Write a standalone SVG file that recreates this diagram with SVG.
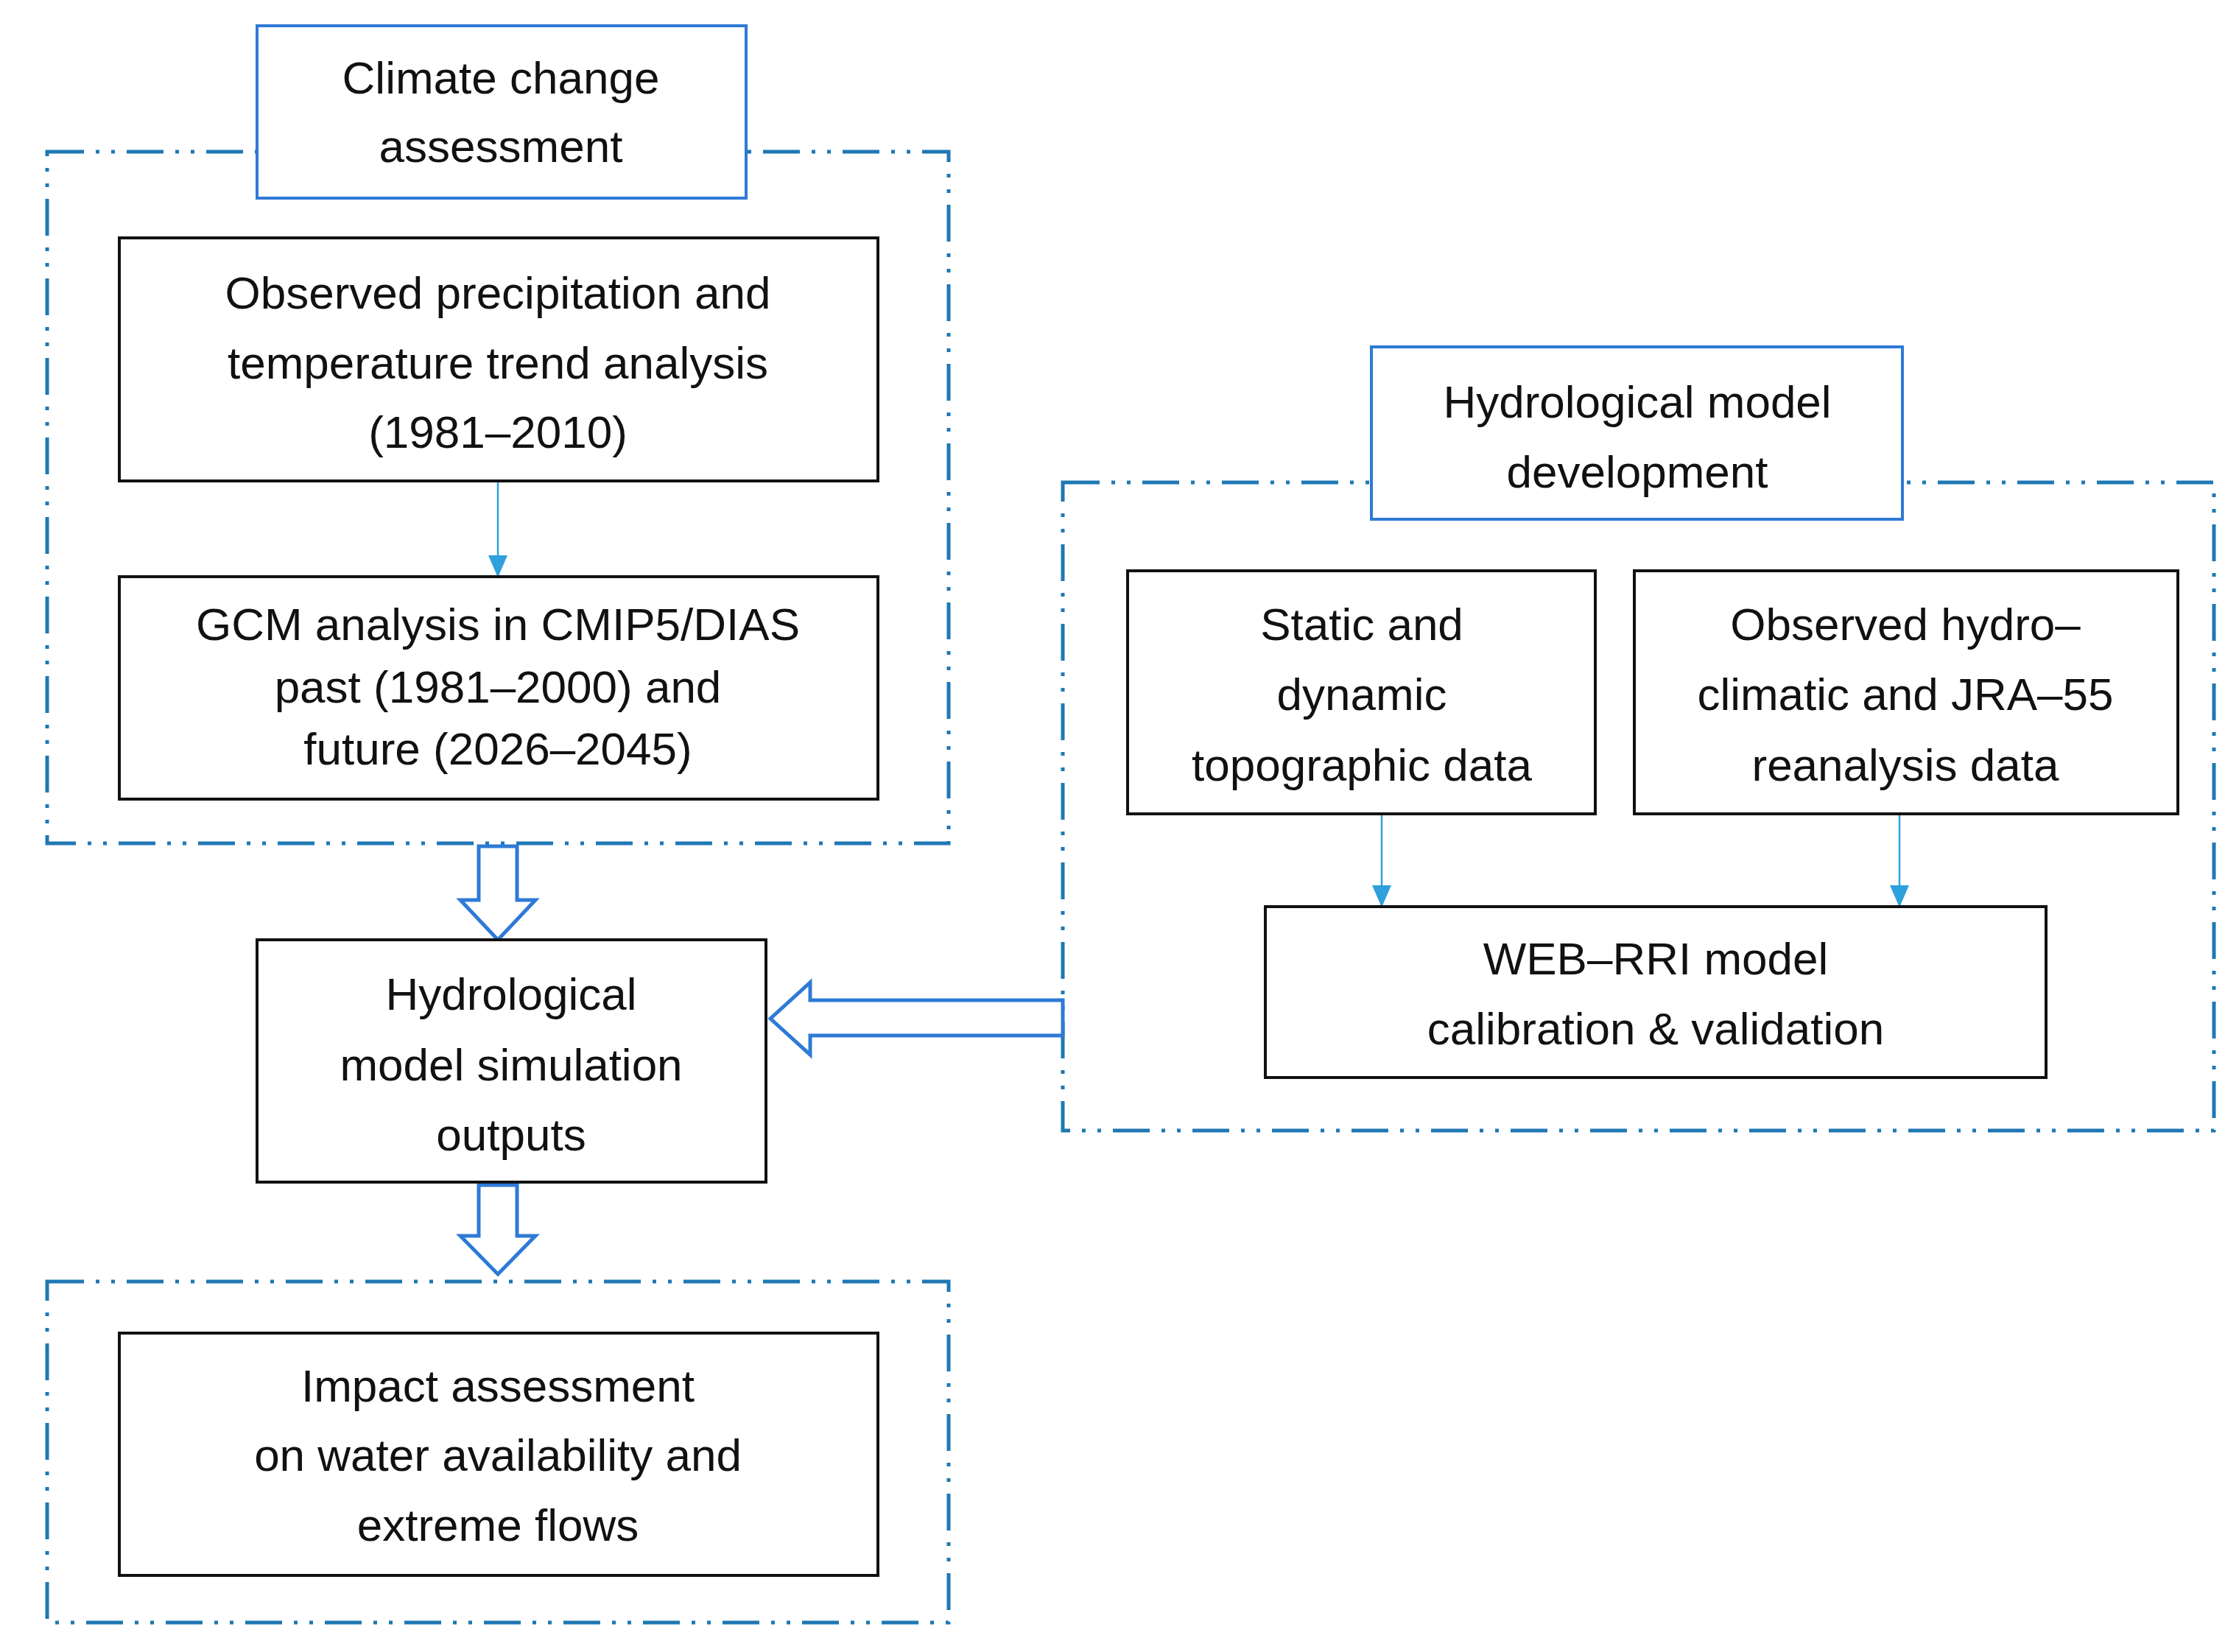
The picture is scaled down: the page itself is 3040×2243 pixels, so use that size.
<svg xmlns="http://www.w3.org/2000/svg" width="3040" height="2243" viewBox="0 0 3040 2243">
<style>
text{font-family:"Liberation Sans",Arial,sans-serif;font-size:62px;fill:#111;text-anchor:middle}
.frame{fill:none;stroke:#1f78b4;stroke-width:5;stroke-dasharray:50 16 5 16 5 16}
.blue{fill:#fff;stroke:#2e7ad6;stroke-width:4}
.blk{fill:#fff;stroke:#111;stroke-width:4}
.thin{stroke:#2ea0dc;stroke-width:2.5;fill:none}
.hollow{fill:#fff;stroke:#2e7ad6;stroke-width:5;stroke-linejoin:miter}
</style>
<defs><marker id="ah" markerWidth="10" markerHeight="10" refX="9" refY="5" orient="auto" markerUnits="userSpaceOnUse" viewBox="0 0 10 10"><path d="M0,0 L10,5 L0,10z" fill="#2ea0dc"/></marker>
<marker id="ah2" markerWidth="30" markerHeight="30" refX="29" refY="15" orient="auto" markerUnits="userSpaceOnUse" viewBox="0 0 30 30"><path d="M0,2 L30,15 L0,28z" fill="#2ea0dc"/></marker></defs>
<g id="frames">
<rect class="frame" x="64" y="206" width="1224" height="939"/>
<rect class="frame" x="1443" y="655" width="1563" height="880"/>
<rect class="frame" x="64" y="1740" width="1224" height="463"/>
</g>
<g id="connectors">
<line class="thin" x1="676" y1="653" x2="676" y2="783" marker-end="url(#ah2)"/>
<line class="thin" x1="1876" y1="1105" x2="1876" y2="1231" marker-end="url(#ah2)"/>
<line class="thin" x1="2579" y1="1105" x2="2579" y2="1231" marker-end="url(#ah2)"/>
<path class="hollow" d="M650,1149 H702 V1222 H727 L676,1276 L625,1222 H650 Z"/>
<path class="hollow" d="M650,1609 H702 V1678 H727 L676,1730 L625,1678 H650 Z"/>
<path class="hollow" d="M1443,1358 V1406 H1100 V1432 L1046,1383 L1100,1334 V1358 Z"/>
</g>
<g id="climate"><rect class="blue" x="349" y="35" width="664" height="234"/><text x="680" y="127">Climate change</text><text x="680" y="220">assessment</text></g>
<g id="observed"><rect class="blk" x="162" y="323" width="1030" height="330"/><text x="676" y="419">Observed precipitation and</text><text x="676" y="514">temperature trend analysis</text><text x="676" y="608">(1981–2010)</text></g>
<g id="gcm"><rect class="blk" x="162" y="783" width="1030" height="302"/><text x="676" y="869">GCM analysis in CMIP5/DIAS</text><text x="676" y="954">past (1981–2000) and</text><text x="676" y="1038">future (2026–2045)</text></g>
<g id="hydrosim"><rect class="blk" x="349" y="1276" width="691" height="329"/><text x="694" y="1371">Hydrological</text><text x="694" y="1467">model simulation</text><text x="694" y="1562">outputs</text></g>
<g id="impact"><rect class="blk" x="162" y="1810" width="1030" height="329"/><text x="676" y="1903">Impact assessment</text><text x="676" y="1997">on water availability and</text><text x="676" y="2092">extreme flows</text></g>
<g id="hydrodev"><rect class="blue" x="1862" y="471" width="721" height="234"/><text x="2223" y="567">Hydrological model</text><text x="2223" y="662">development</text></g>
<g id="static"><rect class="blk" x="1531" y="775" width="635" height="330"/><text x="1849" y="869">Static and</text><text x="1849" y="964">dynamic</text><text x="1849" y="1060">topographic data</text></g>
<g id="obshydro"><rect class="blk" x="2219" y="775" width="738" height="330"/><text x="2587" y="869">Observed hydro–</text><text x="2587" y="964">climatic and JRA–55</text><text x="2587" y="1060">reanalysis data</text></g>
<g id="web"><rect class="blk" x="1718" y="1231" width="1060" height="232"/><text x="2248" y="1323">WEB–RRI model</text><text x="2248" y="1418">calibration &amp; validation</text></g>
</svg>
